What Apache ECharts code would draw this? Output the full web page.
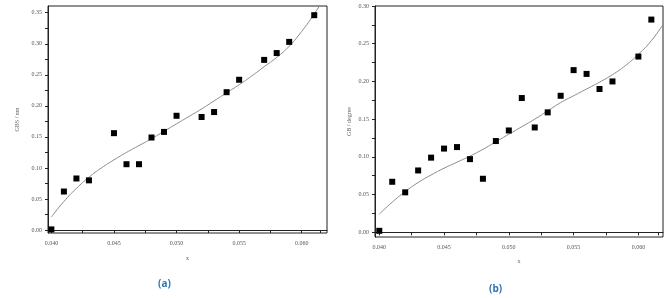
<!DOCTYPE html>
<html><head><meta charset="utf-8">
<script src="https://cdn.jsdelivr.net/npm/echarts@6/dist/echarts.min.js"></script>
<style>html,body{margin:0;padding:0;background:#fff}#c{width:665px;height:298px}</style>
</head><body><div id="c"></div>
<script>
// Panel (a): GBS / nm vs x
const xA = [0.040,0.041,0.042,0.043,0.045,0.046,0.047,0.048,0.049,0.050,0.052,0.053,0.054,0.055,0.057,0.058,0.059,0.061];
const yA = [0.001,0.062,0.083,0.080,0.156,0.106,0.106,0.149,0.158,0.184,0.182,0.190,0.222,0.242,0.274,0.285,0.303,0.346];
// fitted curve (a)
const fitXA = [0.040,0.041,0.042,0.043,0.044,0.045,0.046,0.047,0.048,0.049,0.050,0.051,0.052,0.053,0.054,0.055,0.056,0.057,0.058,0.059,0.060,0.061,0.062];
const fitYA = [0.021,0.046,0.067,0.085,0.100,0.113,0.125,0.136,0.147,0.159,0.171,0.183,0.195,0.208,0.221,0.234,0.248,0.263,0.278,0.296,0.320,0.348,0.380];
// Panel (b): GB / degree vs x
const xB = [0.040,0.041,0.042,0.043,0.044,0.045,0.046,0.047,0.048,0.049,0.050,0.051,0.052,0.053,0.054,0.055,0.056,0.057,0.058,0.060,0.061];
const yB = [0.002,0.067,0.053,0.082,0.099,0.111,0.113,0.097,0.071,0.121,0.135,0.178,0.139,0.159,0.181,0.215,0.210,0.190,0.200,0.233,0.282];
const fitXB = [0.040,0.041,0.042,0.043,0.044,0.045,0.046,0.047,0.048,0.049,0.050,0.051,0.052,0.053,0.054,0.055,0.056,0.057,0.058,0.059,0.060,0.061,0.062];
const fitYB = [0.024,0.040,0.054,0.066,0.076,0.085,0.093,0.101,0.110,0.120,0.130,0.140,0.150,0.161,0.172,0.181,0.190,0.199,0.209,0.221,0.236,0.254,0.278];
// ticks
const xTicks = [0.040,0.045,0.050,0.055,0.060];
const xMinor = [0.0425,0.0475,0.0525,0.0575,0.0615];
const yTicksA = [0,0.05,0.10,0.15,0.20,0.25,0.30,0.35];
const yMinorA = [0.025,0.075,0.125,0.175,0.225,0.275,0.325];
const yTicksB = [0,0.05,0.10,0.15,0.20,0.25,0.30];
const yMinorB = [0.025,0.075,0.125,0.175,0.225,0.275];

const zip = (a,b)=>a.map((v,i)=>[v,b[i]]);
const lblFont = {fontFamily:'Liberation Serif', fontSize:6, color:'#555'};
const lineCol = '#222';
function xAxis(idx,min,max,gap){
  return {type:'value', gridIndex:idx, min:min, max:max, name:'x', nameLocation:'middle', nameGap:gap,
    nameTextStyle:{fontFamily:'Liberation Serif', fontSize:6, color:'#666'},
    axisLine:{lineStyle:{color:lineCol,width:1}},
    axisTick:{show:true, length:3, customValues:xTicks.concat(xMinor), lineStyle:{color:lineCol}},
    axisLabel:Object.assign({customValues:xTicks, margin:7, formatter:v=>v.toFixed(3)}, lblFont),
    splitLine:{show:false}};
}
function yAxis(idx,min,max,major,minor,name,gap){
  return {type:'value', gridIndex:idx, min:min, max:max, name:name, nameLocation:'middle', nameGap:gap, nameRotate:90,
    nameTextStyle:{fontFamily:'Liberation Serif', fontSize:6, color:'#666'},
    axisLine:{lineStyle:{color:lineCol,width:1}},
    axisTick:{show:true, length:3, customValues:major.concat(minor), lineStyle:{color:lineCol}},
    axisLabel:Object.assign({customValues:major, margin:6, formatter:v=>v.toFixed(2)}, lblFont),
    splitLine:{show:false}};
}
const chart = echarts.init(document.getElementById('c'), null, {renderer:'canvas'});
chart.setOption({
  animation:false,
  backgroundColor:'#fff',
  grid:[
    {left:48, top:6, width:279, height:227, show:true, borderColor:lineCol, borderWidth:1, backgroundColor:'transparent'},
    {left:375, top:6, width:288, height:231, show:true, borderColor:lineCol, borderWidth:1, backgroundColor:'transparent'}
  ],
  xAxis:[xAxis(0,0.03973,0.06202,22), xAxis(1,0.03967,0.0619,21)],
  yAxis:[yAxis(0,-0.0048,0.3608,yTicksA,yMinorA,'GBS / nm',28), yAxis(1,-0.0062,0.30,yTicksB,yMinorB,'GB / degree',23)],
  graphic:[
    {type:'text', left:158, top:279, style:{text:'(a)', fill:'#2E75B6', font:'bold 10px "Open Sans"'}},
    {type:'text', left:489, top:284, style:{text:'(b)', fill:'#2E75B6', font:'bold 10px "Open Sans"'}}
  ],
  series:[
    {type:'line', xAxisIndex:0, yAxisIndex:0, data:zip(fitXA,fitYA), smooth:true, showSymbol:false, symbol:'none',
      lineStyle:{color:'#8a8a8a', width:1}, clip:true, z:2},
    {type:'scatter', xAxisIndex:0, yAxisIndex:0, data:zip(xA,yA), symbol:'rect', symbolSize:6,
      itemStyle:{color:'#000', opacity:1}, z:3},
    {type:'line', xAxisIndex:1, yAxisIndex:1, data:zip(fitXB,fitYB), smooth:true, showSymbol:false, symbol:'none',
      lineStyle:{color:'#8a8a8a', width:1}, clip:true, z:2},
    {type:'scatter', xAxisIndex:1, yAxisIndex:1, data:zip(xB,yB), symbol:'rect', symbolSize:6,
      itemStyle:{color:'#000', opacity:1}, z:3}
  ]
});
</script></body></html>
